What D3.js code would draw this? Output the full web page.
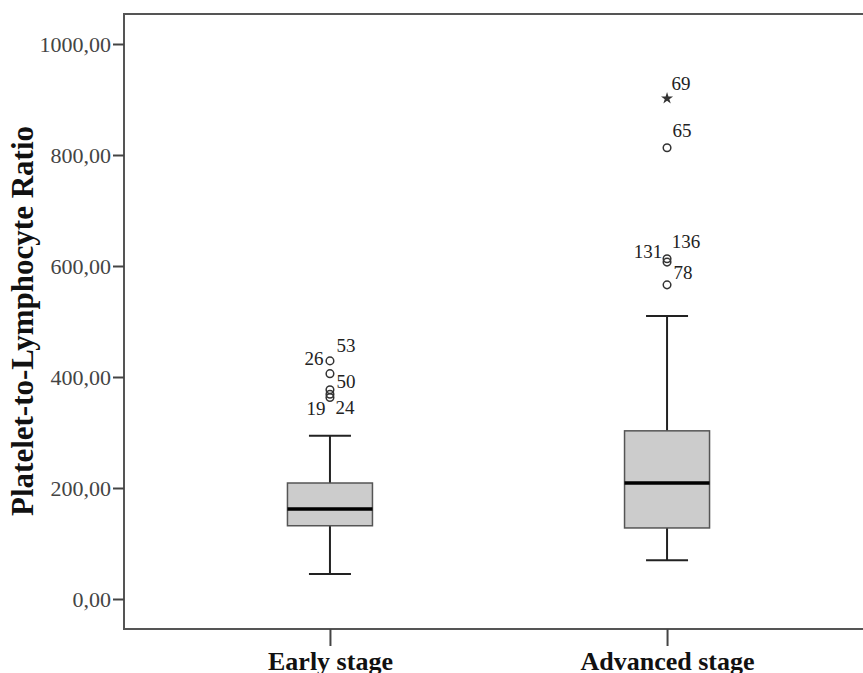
<!DOCTYPE html>
<meta charset="utf-8">
<script src="https://d3js.org/d3.v7.min.js"></script>
<style>
  body { margin: 0; background: #fff; }
  text { font-family: "Liberation Serif", "Times New Roman", serif; }
</style>
<div id="my_dataviz"></div>
<script>

// chart data
var groups   = ["Early stage", "Advanced stage"]
var whiskLow = [45, 70]
var q1       = [132, 128]
var median   = [162, 209]
var q3       = [209, 303]
var whiskHi  = [294, 510]

// outliers: group, value, kind
var outGroup = ["Early stage", "Early stage", "Early stage", "Early stage", "Early stage",
                "Advanced stage", "Advanced stage", "Advanced stage", "Advanced stage", "Advanced stage"]
var outValue = [429, 406, 377, 369, 363, 902, 813, 613, 607, 566]
var outKind  = ["o", "o", "o", "o", "o", "*", "o", "o", "o", "o"]

// case labels
var labGroup = ["Early stage", "Early stage", "Early stage", "Early stage", "Early stage",
                "Advanced stage", "Advanced stage", "Advanced stage", "Advanced stage", "Advanced stage"]
var labText  = ["53", "26", "50", "19", "24", "69", "65", "131", "136", "78"]
var labValue = [429, 429, 406, 363, 363, 902, 813, 607, 613, 607]

var yTicks = [0, 200, 400, 600, 800, 1000]

// where each label sits relative to its point (px)
var labDx = [16, -16, 16, -14, 15, 14, 15, -19, 19, 16]
var labDy = [-16, -3, 8, 11, 10, -15, -17, -11, -17, 10]

var width = 863, height = 673

var svg = d3.select("#my_dataviz")
  .append("svg")
    .attr("width", width)
    .attr("height", height)

var y = d3.scaleLinear().domain([0, 1000]).range([599, 44])
var x = d3.scalePoint().domain(groups).range([124, 873]).padding(0.611)

var plotLeft = 124, plotTop = 14, plotBottom = 629

// frame (right side runs off the picture)
svg.append("path")
  .attr("d", "M" + (width + 5) + "," + plotTop + "H" + plotLeft + "V" + plotBottom + "H" + (width + 5))
  .attr("fill", "none")
  .attr("stroke", "#555")
  .attr("stroke-width", 2)

// y axis ticks
var yAxis = svg.append("g")
  .attr("transform", "translate(" + plotLeft + ",0)")
  .call(d3.axisLeft(y).tickValues(yTicks).tickSize(11).tickPadding(2)
    .tickFormat(function(d) { return d3.format(".2f")(d).replace(".", ","); }))
yAxis.select(".domain").remove()
yAxis.selectAll(".tick line").attr("stroke", "#444").attr("stroke-width", 2)
yAxis.selectAll(".tick text")
  .attr("fill", "#444")
  .style("font-size", "22px")
  .style("font-family", "'Liberation Serif', serif")

// x axis ticks
var xAxis = svg.append("g")
  .attr("transform", "translate(0," + plotBottom + ")")
  .call(d3.axisBottom(x).tickSize(17).tickPadding(0))
xAxis.select(".domain").remove()
xAxis.selectAll(".tick line").attr("stroke", "#444").attr("stroke-width", 2)
xAxis.selectAll(".tick text")
  .attr("fill", "#111")
  .attr("y", 41)
  .attr("dy", null)
  .style("font-size", "26px")
  .style("font-weight", "bold")
  .style("font-family", "'Liberation Serif', serif")

// y title
svg.append("text")
  .attr("transform", "translate(33,321) rotate(-90)")
  .attr("text-anchor", "middle")
  .style("font-size", "31px")
  .style("font-weight", "bold")
  .attr("fill", "#111")
  .text("Platelet-to-Lymphocyte Ratio")

var boxW = 85, capW = 42

var stats = groups.map(function(g, i) {
  return {g: g, lo: whiskLow[i], q1: q1[i], med: median[i], q3: q3[i], hi: whiskHi[i]}
})

var box = svg.selectAll(".box")
  .data(stats)
  .enter()
  .append("g")

// whisker stems
box.append("line")
  .attr("x1", function(d) { return x(d.g) })
  .attr("x2", function(d) { return x(d.g) })
  .attr("y1", function(d) { return y(d.hi) })
  .attr("y2", function(d) { return y(d.lo) })
  .attr("stroke", "#222")
  .attr("stroke-width", 2)

// caps
box.selectAll(".cap")
  .data(function(d) { return [{g: d.g, v: d.lo}, {g: d.g, v: d.hi}] })
  .enter()
  .append("line")
  .attr("x1", function(d) { return x(d.g) - capW / 2 })
  .attr("x2", function(d) { return x(d.g) + capW / 2 })
  .attr("y1", function(d) { return y(d.v) })
  .attr("y2", function(d) { return y(d.v) })
  .attr("stroke", "#222")
  .attr("stroke-width", 2)

// boxes
box.append("rect")
  .attr("x", function(d) { return x(d.g) - boxW / 2 })
  .attr("y", function(d) { return y(d.q3) })
  .attr("width", boxW)
  .attr("height", function(d) { return y(d.q1) - y(d.q3) })
  .attr("fill", "#cccccc")
  .attr("stroke", "#555")
  .attr("stroke-width", 1.5)

// medians
box.append("line")
  .attr("x1", function(d) { return x(d.g) - boxW / 2 })
  .attr("x2", function(d) { return x(d.g) + boxW / 2 })
  .attr("y1", function(d) { return y(d.med) })
  .attr("y2", function(d) { return y(d.med) })
  .attr("stroke", "#000")
  .attr("stroke-width", 3.5)

// outliers
var outliers = outValue.map(function(v, i) { return {g: outGroup[i], v: v, k: outKind[i]} })

svg.selectAll(".outlier")
  .data(outliers.filter(function(d) { return d.k == "o" }))
  .enter()
  .append("circle")
  .attr("cx", function(d) { return x(d.g) })
  .attr("cy", function(d) { return y(d.v) })
  .attr("r", 3.8)
  .attr("fill", "none")
  .attr("stroke", "#333")
  .attr("stroke-width", 1.5)

// extreme values as a star
svg.selectAll(".extreme")
  .data(outliers.filter(function(d) { return d.k == "*" }))
  .enter()
  .append("path")
  .attr("transform", function(d) { return "translate(" + x(d.g) + "," + y(d.v) + ")" })
  .attr("d", d3.symbol().type(d3.symbolStar).size(45))
  .attr("fill", "#333")
  .attr("stroke", "none")

// case labels
svg.selectAll(".lab")
  .data(labText)
  .enter()
  .append("text")
  .attr("x", function(d, i) { return x(labGroup[i]) + labDx[i] })
  .attr("y", function(d, i) { return y(labValue[i]) + labDy[i] })
  .attr("text-anchor", "middle")
  .attr("dy", "0.35em")
  .attr("fill", "#222")
  .style("font-size", "19px")
  .text(function(d) { return d })

</script>
